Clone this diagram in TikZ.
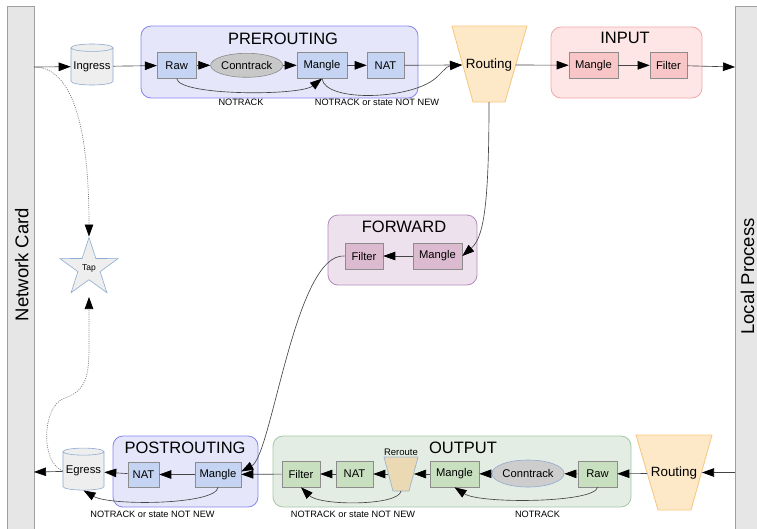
\documentclass[tikz,border=0pt]{standalone}
\usepackage{fontspec}
\setmainfont{Liberation Sans}
\usetikzlibrary{shapes.geometric,arrows.meta}
\definecolor{linec}{HTML}{454545}
\definecolor{dotc}{HTML}{7A7A7A}
\definecolor{barF}{HTML}{E6E6E6}
\definecolor{barD}{HTML}{A0A0A0}
\definecolor{preF}{HTML}{E6E6FB}
\definecolor{preD}{HTML}{8585F2}
\definecolor{blueB}{HTML}{C4D4F2}
\definecolor{inF}{HTML}{FFE6E6}
\definecolor{inD}{HTML}{F2A6A6}
\definecolor{pinkB}{HTML}{F8C6C6}
\definecolor{fwF}{HTML}{EEE1EE}
\definecolor{fwD}{HTML}{B48CBC}
\definecolor{purpB}{HTML}{DCBBD0}
\definecolor{outF}{HTML}{E3EDE3}
\definecolor{outD}{HTML}{A6C6A6}
\definecolor{greenB}{HTML}{C8E0C0}
\definecolor{boxD}{HTML}{8C8C8C}
\definecolor{ctF}{HTML}{C8C8C8}
\definecolor{rtF}{HTML}{FDE8C8}
\definecolor{rtD}{HTML}{F6C67E}
\definecolor{rrF}{HTML}{EBD9B4}
\definecolor{rrD}{HTML}{9FB3CC}
\definecolor{cylF}{HTML}{EEEEEE}
\definecolor{cylD}{HTML}{8FAAD0}
\begin{document}
\begin{tikzpicture}[x=1pt,y=-1pt,
  arr/.style={draw=linec, line width=0.65pt, -{Triangle[length=12pt,width=8.5pt,fill=black,color=black]}},
  dotarr/.style={draw=dotc, line width=0.7pt, dash pattern=on 1pt off 1.2pt, -{Triangle[length=12pt,width=8.5pt,fill=black,color=black]}},
  container/.style={rounded corners=10pt, line width=0.8pt, inner sep=0pt},
  title/.style={font=\fontsize{16.5}{18}\selectfont, inner sep=0pt},
  boxn/.style={draw=boxD, line width=0.6pt, minimum height=26, inner sep=0pt, font=\fontsize{11.2}{13}\selectfont},
  ctn/.style={ellipse, draw=boxD, fill=ctF, line width=0.6pt, inner sep=0pt, font=\fontsize{11.2}{13}\selectfont},
  lbl/.style={font=\fontsize{9.2}{11}\selectfont, inner sep=0pt},
  cyl/.style={cylinder, shape border rotate=90, aspect=0.2, draw=cylD, fill=cylF, line width=0.6pt, inner sep=0pt, font=\fontsize{11.3}{13}\selectfont},
  barn/.style={draw=barD, fill=barF, line width=0.8pt, inner sep=0pt},
  bartext/.style={rotate=90, font=\fontsize{18.5}{20}\selectfont, inner sep=0pt}
]
\path[use as bounding box] (0,0) rectangle (757,528);

% side bars
\node[barn, minimum width=27, minimum height=540, anchor=north west] (nc) at (7,6) {};
\node[bartext] (nctext) at (21.7,264.5) {Network Card};
\node[barn, minimum width=30, minimum height=540, anchor=north west] (lp) at (735,6) {};
\node[bartext] (lptext) at (747.6,276.5) {Local Process};
\coordinate (ncin) at (34,67);
\coordinate (ncout) at (34,472);
\coordinate (lpin) at (735,67);
\coordinate (lpout) at (735,472.5);

% containers
\node[container, fill=preF, draw=preD, minimum width=277, minimum height=72] (pre) at (279.5,62) {};
\node[title] (pret) at (283,39) {PREROUTING};
\node[container, fill=inF, draw=inD, minimum width=151, minimum height=71] (inp) at (626.5,62.5) {};
\node[title] (inpt) at (625,38) {INPUT};
\node[container, fill=fwF, draw=fwD, minimum width=149, minimum height=70] (fw) at (402.5,250) {};
\node[title] (fwt) at (404,226.5) {FORWARD};
\node[container, fill=preF, draw=preD, minimum width=145, minimum height=71] (po) at (185.5,471.5) {};
\node[title] (pot) at (185,448) {POSTROUTING};
\node[container, fill=outF, draw=outD, minimum width=358, minimum height=71] (out) at (452,471.5) {};
\node[title] (outt) at (463,448) {OUTPUT};

% cylinders and star
\node[cyl, minimum width=42, minimum height=41] (ingress) at (92,66.5) {Ingress};
\node[cyl, minimum width=41, minimum height=42] (egress) at (83.5,471) {Egress};
\node[star, star points=5, star point ratio=2.6, minimum size=61, inner sep=0pt, draw=cylD, fill=cylF, line width=0.6pt] (tap) at (89,268) {};
\node[inner sep=0pt, font=\fontsize{8.5}{10}\selectfont] (taptext) at (89,268) {Tap};
\coordinate (tapbot) at (89,297);

% routing trapezoids
\path[draw=rtD, fill=rtF, line width=0.8pt] (452,26) -- (527,26) -- (505,102) -- (473,102) -- cycle;
\node[inner sep=0pt, font=\fontsize{13.4}{15}\selectfont] (rt1) at (489,65) {Routing};
\coordinate (rt1in) at (462,65);
\coordinate (rt1out) at (515.5,65);
\coordinate (rt1bot) at (489,102);
\path[draw=rtD, fill=rtF, line width=0.8pt] (636,435) -- (712,435) -- (691,510) -- (658,510) -- cycle;
\node[inner sep=0pt, font=\fontsize{13.4}{15}\selectfont] (rt2) at (674,473) {Routing};
\coordinate (rt2in) at (702,472.5);
\coordinate (rt2out) at (647,473.5);
\path[draw=rrD, fill=rrF, line width=0.7pt] (384,457) -- (418,457) -- (409,491) -- (393,491) -- cycle;
\node[inner sep=0pt, font=\fontsize{9.5}{11}\selectfont] (rrtext) at (401,452) {Reroute};
\coordinate (rrin) at (414,474);
\coordinate (rrout) at (388,474);
\coordinate (rrbot) at (401,491);

% prerouting chain
\node[boxn, fill=blueB, minimum width=39] (preraw) at (176.7,65.3) {Raw};
\node[ctn, minimum width=65, minimum height=24] (prect) at (246.7,65.3) {Conntrack};
\node[boxn, fill=blueB, minimum width=50] (premangle) at (322,65.3) {Mangle};
\node[boxn, fill=blueB, minimum width=37] (prenat) at (385.5,65.3) {NAT};
% input chain
\node[boxn, fill=pinkB, minimum width=49] (inmangle) at (593.5,65.3) {Mangle};
\node[boxn, fill=pinkB, minimum width=37] (infilter) at (668.5,65.3) {Filter};
% forward chain
\node[boxn, fill=purpB, minimum width=38] (fwfilter) at (364,256) {Filter};
\node[boxn, fill=purpB, minimum width=49] (fwmangle) at (437.5,256) {Mangle};
% postrouting chain
\node[boxn, fill=blueB, minimum width=31, minimum height=25] (ponat) at (143.5,474.5) {NAT};
\node[boxn, fill=blueB, minimum width=46, minimum height=25] (pomangle) at (218,474.5) {Mangle};
% output chain
\node[boxn, fill=greenB, minimum width=38] (outfilter) at (301,474) {Filter};
\node[boxn, fill=greenB, minimum width=37] (outnat) at (354.5,474) {NAT};
\node[boxn, fill=greenB, minimum width=49] (outmangle) at (454.5,474) {Mangle};
\node[ctn, draw=cylD, fill=ctF!90!white, minimum width=64, minimum height=27] (outct) at (528,473.5) {Conntrack};
\node[boxn, fill=greenB, minimum width=39] (outraw) at (597.5,474) {Raw};

% labels
\node[lbl] (l1) at (241,102.5) {NOTRACK};
\node[lbl] (l2) at (377,102.5) {NOTRACK or state NOT NEW};
\node[lbl] (l3) at (152.5,514) {NOTRACK or state NOT NEW};
\node[lbl] (l4) at (353,514) {NOTRACK or state NOT NEW};
\node[lbl] (l5) at (537.5,514) {NOTRACK};

% ingress path
\draw[arr] (ncin) -- (ingress);
\draw[arr] (ingress) -- (preraw);
\draw[arr] (preraw) -- (prect);
\draw[arr] (prect) -- (premangle);
\draw[arr] (premangle) -- (prenat);
\draw[arr] (prenat) -- (rt1in);
\draw[arr] (preraw.south) .. controls (179,96) and (300,96) .. (premangle.south);
\draw[arr] (premangle.south) .. controls (325,103) and (415,100) .. (438,76) .. controls (448,66) .. (rt1in);
\draw[arr] (rt1out) -- (inmangle);
\draw[arr] (inmangle) -- (infilter);
\draw[arr] (infilter) -- (lpin);
% forward
\draw[arr] (rt1bot) .. controls (489,210) and (483,238) .. (fwmangle.east);
\draw[arr] (fwmangle) -- (fwfilter);
\draw[arr] (fwfilter.west) .. controls (295,252) and (272,455) .. ([yshift=3pt]pomangle.east);
% output path
\draw[arr] (lpout) -- (rt2in);
\draw[arr] (rt2out) -- (outraw);
\draw[arr] (outraw) -- (outct);
\draw[arr] (outct) -- (outmangle);
\draw[arr] (outmangle) -- (rrin);
\draw[arr] (rrout) -- (outnat);
\draw[arr] (outnat) -- (outfilter);
\draw[arr] (outraw.south) .. controls (595,503) and (480,504) .. (outmangle.south);
\draw[arr] (rrbot) .. controls (399,506) and (320,506) .. (outfilter.south);
\draw[arr] (outfilter) -- (pomangle);
\draw[arr] (pomangle) -- (ponat);
\draw[arr] (ponat) -- (egress);
\draw[arr] (pomangle.south) .. controls (216,505) and (110,506) .. (egress.south);
\draw[arr] (egress) -- (ncout);
% tap
\draw[dotarr] (ncin) .. controls (70,67) and (89,120) .. (tap.north);
\draw[dotarr] (egress.west) .. controls (40,462) and (42,405) .. (65,398) .. controls (89,390) and (89,370) .. (89,340) -- (tapbot);
\end{tikzpicture}
\end{document}
